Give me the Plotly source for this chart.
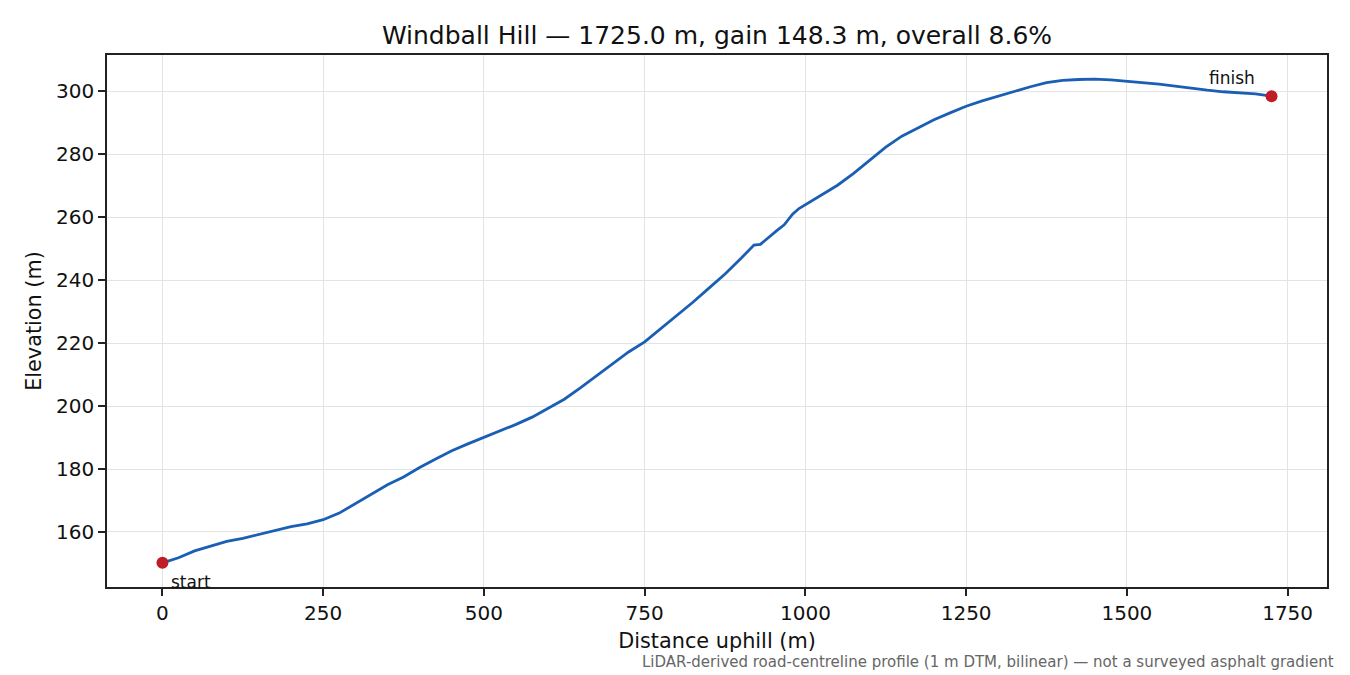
import plotly.graph_objects as go

# Profile data
distance_m = [0, 25, 50, 75, 100, 125, 150, 175, 200, 225, 250, 275, 300, 325, 350, 375,
              400, 425, 450, 475, 500, 525, 550, 575, 600, 625, 650, 675, 700, 725, 750,
              775, 800, 825, 850, 875, 900, 915, 920, 930, 943, 955, 967, 980, 990, 1000,
              1025, 1050, 1075, 1100, 1125, 1150, 1175, 1200, 1225, 1250, 1275, 1300, 1325,
              1350, 1375, 1400, 1425, 1450, 1475, 1500, 1525, 1550, 1575, 1600, 1625, 1650,
              1675, 1700, 1725]
elevation_m = [150.2, 151.8, 154.0, 155.5, 157.0, 158.0, 159.3, 160.6, 161.7, 162.6, 163.9,
               166.0, 169.0, 172.0, 175.0, 177.5, 180.5, 183.2, 185.8, 188.0, 190.0, 192.2,
               194.2, 196.5, 199.3, 202.2, 205.8, 209.6, 213.5, 217.2, 220.4, 224.5, 228.8,
               233.0, 237.5, 242.0, 247.0, 250.3, 251.2, 251.4, 253.7, 255.7, 257.6, 261.0,
               262.8, 264.0, 267.1, 270.2, 274.0, 278.3, 282.3, 285.8, 288.5, 291.0, 293.2,
               295.3, 297.0, 298.5, 300.1, 301.5, 302.8, 303.5, 303.8, 303.9, 303.7, 303.3,
               302.8, 302.3, 301.7, 301.0, 300.4, 299.9, 299.6, 299.2, 298.5]

x_ticks = [0, 250, 500, 750, 1000, 1250, 1500, 1750]
y_ticks = [160, 180, 200, 220, 240, 260, 280, 300]

title_text = "Windball Hill — 1725.0 m, gain 148.3 m, overall 8.6%"
footnote = "LiDAR-derived road-centreline profile (1 m DTM, bilinear) — not a surveyed asphalt gradient"

LINE = "#1a5fb4"
RED = "#c01c28"
FONT = "DejaVu Sans"

fig = go.Figure()
fig.add_trace(go.Scatter(x=distance_m, y=elevation_m, mode="lines",
                         line=dict(color=LINE, width=2.8), showlegend=False,
                         hoverinfo="skip"))
fig.add_trace(go.Scatter(x=[distance_m[0], distance_m[-1]],
                         y=[elevation_m[0], elevation_m[-1]], mode="markers",
                         marker=dict(color=RED, size=12), showlegend=False))

span_x = distance_m[-1] - distance_m[0]
ymin, ymax = min(elevation_m), max(elevation_m)
span_y = ymax - ymin

axis_common = dict(showline=True, mirror=True, linecolor="#222", linewidth=1.5,
                   ticks="outside", ticklen=7, tickwidth=1.5, tickcolor="#222",
                   showgrid=True, gridcolor="#e3e3e3", gridwidth=1.3, zeroline=False,
                   tickfont=dict(family=FONT, size=20, color="#111"))

# page body has an 8 px default margin, so the figure is sized/margined to land the
# plot area at the reference position
fig.update_layout(
    width=1342, height=667,
    paper_bgcolor="white", plot_bgcolor="white",
    margin=dict(l=99, r=23, t=47, b=88),
    font=dict(family=FONT, color="#111"),
    title=dict(text=title_text, x=0.5, xref="paper", xanchor="center",
               y=1 - 27 / 667, yref="container", yanchor="middle",
               font=dict(family=FONT, size=25, color="#111")),
    xaxis=dict(axis_common, range=[distance_m[0] - 0.05 * span_x, distance_m[-1] + 0.05 * span_x],
               tickvals=x_ticks, ticktext=[str(v) for v in x_ticks],
               title=dict(text="Distance uphill (m)", font=dict(family=FONT, size=20.8), standoff=10)),
    yaxis=dict(axis_common, range=[ymin - 0.05 * span_y, ymax + 0.05 * span_y],
               tickvals=y_ticks, ticktext=[str(v) for v in y_ticks],
               title=dict(text="Elevation (m)", font=dict(family=FONT, size=20.8), standoff=9)),
)

fig.add_annotation(x=distance_m[0], y=elevation_m[0], text="start", showarrow=False,
                   xanchor="left", yanchor="middle", xshift=7, yshift=-19,
                   font=dict(family=FONT, size=17, color="#111"))
fig.add_annotation(x=distance_m[-1], y=elevation_m[-1], text="finish", showarrow=False,
                   xanchor="right", yanchor="middle", xshift=-15, yshift=18,
                   font=dict(family=FONT, size=17, color="#111"))
fig.add_annotation(x=(1336 - 107) / 1220, xref="paper", xanchor="right",
                   y=(587 - 662) / 532, yref="paper", yanchor="middle",
                   text=footnote, showarrow=False,
                   font=dict(family=FONT, size=15, color="#666"))

fig.write_html("out.html")
